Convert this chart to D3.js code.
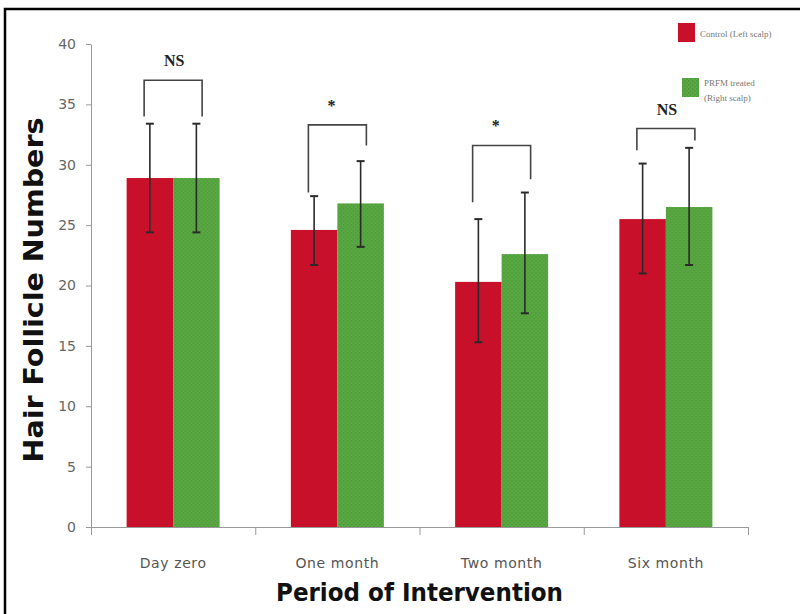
<!DOCTYPE html>
<html>
<head>
<meta charset="utf-8">
<script src="https://cdn.jsdelivr.net/npm/d3@7"></script>
<style>
  html, body { margin: 0; padding: 0; background: #fff; }
  svg { display: block; }
</style>
</head>
<body>
<svg id="chart" width="800" height="614"></svg>
<script>
// ---- data ----
const categories = ["Day zero", "One month", "Two month", "Six month"];
const seriesNames = ["Control (Left scalp)", "PRFM treated (Right scalp)"];
const controlMean = [28.9, 24.6, 20.3, 25.5];
const controlLow  = [24.4, 21.7, 15.3, 21.0];
const controlHigh = [33.4, 27.4, 25.5, 30.1];
const treatedMean = [28.9, 26.8, 22.6, 26.5];
const treatedLow  = [24.4, 23.2, 17.7, 21.7];
const treatedHigh = [33.4, 30.3, 27.7, 31.4];
const significance = ["NS", "*", "*", "NS"];
const bracketTop = [37.0, 33.3, 31.6, 33.0];
const bracketLeftEnd = [34.0, 27.7, 26.9, 31.2];
const bracketRightEnd = [34.0, 31.6, 28.8, 32.0];
const yTicks = [0, 5, 10, 15, 20, 25, 30, 35, 40];

const colors = ["#c8102a", "#5aa843"];

const svg = d3.select("#chart");

// frame (only top and left edges visible in the reference)
svg.append("rect")
  .attr("x", 5).attr("y", 9).attr("width", 820).attr("height", 640)
  .attr("fill", "none").attr("stroke", "#000").attr("stroke-width", 2.5);

// pattern for green bars
const defs = svg.append("defs");
const pat = defs.append("pattern").attr("id", "gpat")
  .attr("width", 4).attr("height", 4).attr("patternUnits", "userSpaceOnUse");
pat.append("rect").attr("width", 4).attr("height", 4).attr("fill", colors[1]);
pat.append("rect").attr("x", 0).attr("y", 0).attr("width", 1.5).attr("height", 1.5).attr("fill", "#4c9838");
pat.append("rect").attr("x", 2).attr("y", 2).attr("width", 1.5).attr("height", 1.5).attr("fill", "#4c9838");

const x0 = 91, x1 = 748, yBase = 527, yTop = 44;
const y = d3.scaleLinear().domain([0, 40]).range([yBase, yTop]);
const xb = d3.scaleBand().domain(categories).range([x0, x1]).padding(0);
const groupW = 93;
const xs = d3.scaleBand().domain(seriesNames).range([0, groupW]).padding(0);
const xBound = d3.scaleLinear().domain([0, categories.length]).range([x0, x1]);

// y axis
const yAxis = svg.append("g").attr("transform", `translate(${x0},0)`)
  .call(d3.axisLeft(y).tickValues(yTicks).tickSize(5).tickSizeOuter(0).tickPadding(10));
yAxis.select(".domain").attr("stroke", "#999");
yAxis.selectAll(".tick line").attr("stroke", "#999");
yAxis.selectAll(".tick text").attr("fill", "#666")
  .style("font-family", "DejaVu Sans, sans-serif").style("font-size", "14px");

// x axis (boundary ticks)
const xAxis = svg.append("g").attr("transform", `translate(0,${yBase})`)
  .call(d3.axisBottom(xBound).tickValues(d3.range(categories.length + 1)).tickFormat("").tickSize(8).tickSizeOuter(0));
xAxis.select(".domain").attr("stroke", "#999");
xAxis.selectAll(".tick line").attr("stroke", "#999");

// x labels
const xLab = svg.append("g").attr("transform", `translate(0,${yBase})`)
  .call(d3.axisBottom(xb).tickSize(0).tickPadding(31));
xLab.select(".domain").remove();
xLab.selectAll(".tick text").attr("fill", "#555")
  .style("font-family", "DejaVu Sans, sans-serif").style("font-size", "14px")
  .style("letter-spacing", "0.6px");

// bars
const rows = categories.map((c, i) => ({
  cat: c, i,
  vals: [
    { s: seriesNames[0], m: controlMean[i], lo: controlLow[i], hi: controlHigh[i], k: 0 },
    { s: seriesNames[1], m: treatedMean[i], lo: treatedLow[i], hi: treatedHigh[i], k: 1 }
  ]
}));

const groups = svg.append("g").selectAll("g").data(rows).join("g")
  .attr("transform", d => `translate(${xb(d.cat) + (xb.bandwidth() - groupW) / 2},0)`);

groups.selectAll("rect.bar").data(d => d.vals).join("rect")
  .attr("class", "bar")
  .attr("x", d => xs(d.s))
  .attr("width", xs.bandwidth())
  .attr("y", d => y(d.m))
  .attr("height", d => y(0) - y(d.m))
  .attr("fill", d => d.k === 0 ? colors[0] : "url(#gpat)");

// error bars
const eb = groups.selectAll("g.err").data(d => d.vals).join("g").attr("class", "err");
eb.append("line")
  .attr("x1", d => xs(d.s) + xs.bandwidth() / 2).attr("x2", d => xs(d.s) + xs.bandwidth() / 2)
  .attr("y1", d => y(d.hi)).attr("y2", d => y(d.lo))
  .attr("stroke", "#2a2a2a").attr("stroke-width", 1.6);
["hi", "lo"].forEach(key => {
  eb.append("line")
    .attr("x1", d => xs(d.s) + xs.bandwidth() / 2 - 4).attr("x2", d => xs(d.s) + xs.bandwidth() / 2 + 4)
    .attr("y1", d => y(d[key])).attr("y2", d => y(d[key]))
    .attr("stroke", "#2a2a2a").attr("stroke-width", 2);
});

// significance brackets
const legOff = 29;
const br = svg.append("g").selectAll("g").data(rows).join("g");
br.append("path")
  .attr("d", d => {
    const c = xb(d.cat) + xb.bandwidth() / 2;
    const l = c - legOff, r = c + legOff;
    return `M${l},${y(bracketLeftEnd[d.i])}V${y(bracketTop[d.i])}H${r}V${y(bracketRightEnd[d.i])}`;
  })
  .attr("fill", "none").attr("stroke", "#444").attr("stroke-width", 1.6);
br.append("text")
  .attr("x", d => xb(d.cat) + xb.bandwidth() / 2 + (significance[d.i] === "*" ? -6 : 1))
  .attr("y", d => y(bracketTop[d.i]) - 14)
  .attr("text-anchor", "middle")
  .style("font-family", "Liberation Serif, serif").style("font-size", "16px").style("font-weight", "bold")
  .attr("fill", "#222")
  .text(d => significance[d.i]);

// axis titles
svg.append("text")
  .attr("transform", `translate(43,290) rotate(-90)`)
  .attr("text-anchor", "middle")
  .attr("textLength", 345).attr("lengthAdjust", "spacingAndGlyphs")
  .style("font-family", "DejaVu Sans, sans-serif").style("font-size", "26px").style("font-weight", "bold")
  .attr("fill", "#111")
  .text("Hair Follicle Numbers");

svg.append("text")
  .attr("x", (x0 + x1) / 2).attr("y", 601)
  .attr("text-anchor", "middle")
  .attr("textLength", 287).attr("lengthAdjust", "spacingAndGlyphs")
  .style("font-family", "DejaVu Sans, sans-serif").style("font-size", "25px").style("font-weight", "bold")
  .attr("fill", "#111")
  .text("Period of Intervention");

// legend
const legendItems = [
  { color: colors[0], fill: colors[0], x: 678, y: 23, lines: ["Control (Left scalp)"] },
  { color: colors[1], fill: "url(#gpat)", x: 682, y: 78, lines: ["PRFM treated", "(Right scalp)"] }
];
const lg = svg.append("g").selectAll("g").data(legendItems).join("g");
lg.append("rect")
  .attr("x", d => d.x).attr("y", d => d.y).attr("width", 17).attr("height", 19)
  .attr("fill", d => d.fill);
lg.each(function(d) {
  const g = d3.select(this);
  d.lines.forEach((t, j) => {
    g.append("text")
      .attr("x", d.x + 22).attr("y", d.lines.length === 1 ? d.y + 14 : d.y + 8 + j * 15)
      .style("font-family", "Liberation Serif, serif").style("font-size", "9px")
      .attr("fill", "#777")
      .text(t);
  });
});
</script>
</body>
</html>
